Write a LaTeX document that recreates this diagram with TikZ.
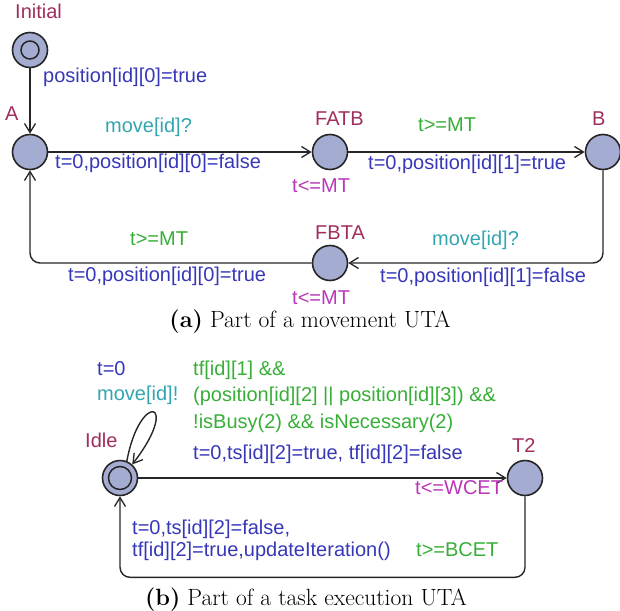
\documentclass[tikz,border=0pt]{standalone}
\usepackage{fontspec}
\newfontfamily\labfont{Liberation Sans}
\usetikzlibrary{arrows.meta}
\definecolor{locname}{RGB}{160,45,95}
\definecolor{assign}{RGB}{55,55,185}
\definecolor{sync}{RGB}{50,165,175}
\definecolor{guard}{RGB}{55,175,55}
\definecolor{inv}{RGB}{185,55,185}
\definecolor{locfill}{RGB}{165,172,210}
\tikzset{
  loc/.style={circle,draw=black!85,line width=1.6pt,fill=locfill,minimum size=35pt,inner sep=0pt},
  lbl/.style={anchor=west,inner sep=0pt,font=\labfont\fontsize{20}{24}\selectfont,text height=0.72em,text depth=0.2em},
  nm/.style={lbl,text=locname},
  asg/.style={lbl,text=assign},
  syn/.style={lbl,text=sync},
  grd/.style={lbl,text=guard},
  ivt/.style={lbl,text=inv},
  edge/.style={line width=1.4pt,draw=black!85,-{Straight Barb[length=9pt,width=11pt,line width=1.3pt]},rounded corners=10pt},
  captext/.style={inner sep=0pt,font=\fontsize{23.5}{28}\selectfont}
}
\begin{document}
\begin{tikzpicture}[x=1pt,y=-1pt]
\useasboundingbox (0,0) rectangle (620,610);
% part (a)
\node[loc] (Initial) at (30,50) {};
\draw[line width=1.5pt,draw=black!85] (Initial) circle[radius=9];
\node[loc] (A) at (30,152) {};
\node[loc] (FATB) at (330,152) {};
\node[loc] (B) at (603,152) {};
\node[loc] (FBTA) at (330,263) {};
\node[nm] (nInitial) at (15,16) {Initial};
\node[nm] (nA) at (5,118) {A};
\node[nm] (nFATB) at (315,123) {FATB};
\node[nm] (nB) at (592,123) {B};
\node[nm] (nFBTA) at (315,237) {FBTA};

\draw[edge] (Initial) -- (A);
\draw[edge] (A) -- (FATB);
\draw[edge] (FATB) -- (B);
\draw[edge] (B.south) |- (FBTA.east);
\draw[edge] (FBTA.west) -| (A.south);

\node[asg] (l1) at (43,80) {position[id][0]=true};
\node[syn] (l2) at (105,130) {move[id]?};
\node[asg] (l3) at (55,166) {t=0,position[id][0]=false};
\node[ivt] (l4) at (292,190) {t<=MT};
\node[grd] (l5) at (418,129) {t>=MT};
\node[asg] (l6) at (368,167) {t=0,position[id][1]=true};
\node[syn] (l7) at (432,243) {move[id]?};
\node[asg] (l8) at (380,280) {t=0,position[id][1]=false};
\node[ivt] (l9) at (292,302) {t<=MT};
\node[grd] (l10) at (130,243) {t>=MT};
\node[asg] (l11) at (68,279) {t=0,position[id][0]=true};
\node[captext] (capa) at (310,322) {\textbf{(a)} Part of a movement UTA};

% part (b)
\node[loc] (Idle) at (120,478) {};
\draw[line width=1.5pt,draw=black!85] (Idle) circle[radius=11.5];
\node[loc] (T2) at (525,478) {};
\node[nm] (nIdle) at (85,445) {Idle};
\node[nm] (nT2) at (512,450) {T2};

\draw[edge,rounded corners=0pt] (Idle.68) .. controls (140,390) and (182,400) .. (Idle.48);
\draw[edge] (Idle) -- (T2);
\draw[edge] (T2.south) -- ++(0,81) -| (Idle.south);

\node[asg] (m1) at (97,373) {t=0};
\node[syn] (m2) at (97,398) {move[id]!};
\node[grd] (g1) at (193,373) {tf[id][1] \&\&};
\node[grd] (g2) at (193,399) {(position[id][2] || position[id][3]) \&\&};
\node[grd] (g3) at (193,426) {!isBusy(2) \&\& isNecessary(2)};
\node[asg] (a1) at (193,457) {t=0,ts[id][2]=true, tf[id][2]=false};
\node[ivt] (w1) at (415,492) {t<=WCET};
\node[asg] (a2) at (132,532) {t=0,ts[id][2]=false,};
\node[asg] (a3) at (132,554) {tf[id][2]=true,updateIteration()};
\node[grd] (b1) at (416,554) {t>=BCET};
\node[captext] (capb) at (306,600) {\textbf{(b)} Part of a task execution UTA};
\end{tikzpicture}
\end{document}
